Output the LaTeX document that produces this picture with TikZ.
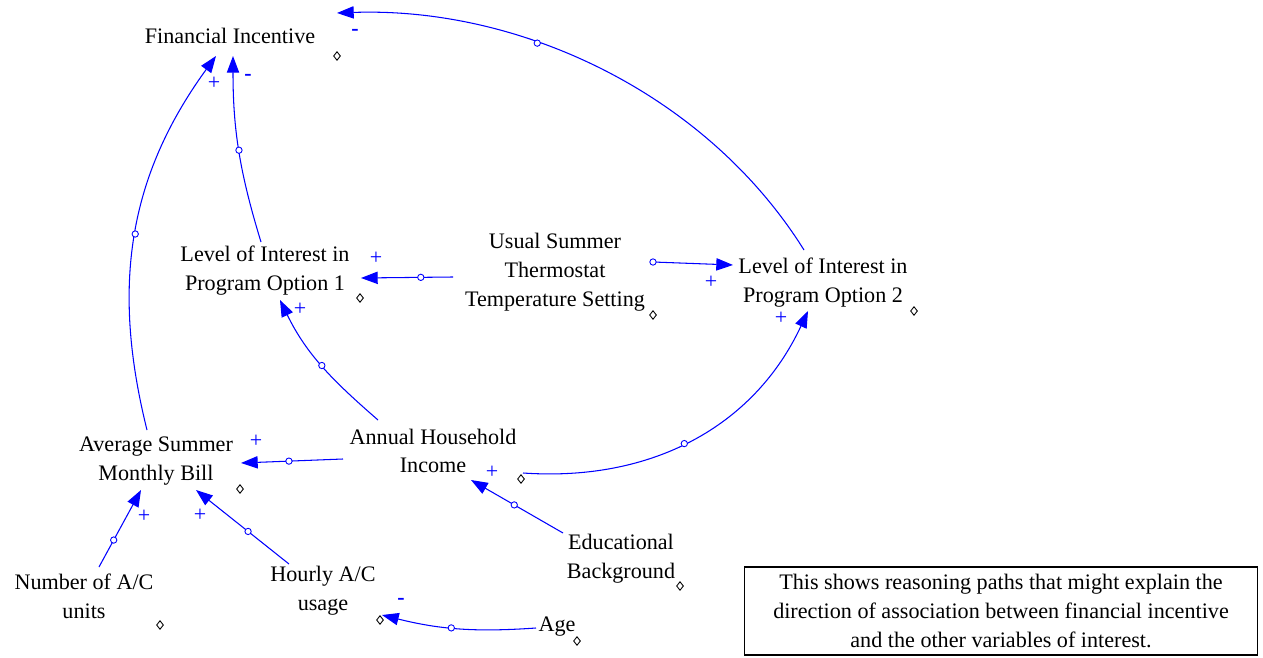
\documentclass[tikz,border=0pt]{standalone}
\usepackage{fontspec}
\setmainfont{Liberation Serif}
\usetikzlibrary{arrows.meta,shapes,positioning,calc}

\tikzset{
  var/.style={align=center, inner sep=0pt, font=\fontsize{12.6}{16.4}\selectfont},
  link/.style={draw=blue, line width=0.6pt, -{Triangle[length=9.5pt,width=7pt]}},
  hnd/.style={circle, draw=blue, fill=white, line width=0.5pt, inner sep=0pt, minimum size=3.6pt},
  pol/.style={text=blue, inner sep=0pt, font=\fontsize{12.5}{14}\selectfont},
  dmd/.style={diamond, draw=black, fill=white, line width=0.5pt, inner sep=0pt, minimum width=4pt, minimum height=5pt},
}

\begin{document}
\begin{tikzpicture}[x=0.02cm, y=0.02cm]
\useasboundingbox (0,0) rectangle (1263,-658);

% Variables
\node[var] (fin) at (230,-36) {Financial Incentive};
\node[var] (opt1) at (265,-271) {Level of Interest in\\Program Option 1};
\node[var] (thermo) at (555,-272) {Usual Summer\\Thermostat\\Temperature Setting};
\node[var] (opt2) at (823,-283) {Level of Interest in\\Program Option 2};
\node[var] (income) at (433,-451) {Annual Household\\Income};
\node[var] (bill) at (156,-461) {Average Summer\\Monthly Bill};
\node[var] (units) at (84,-596) {Number of A/C\\units};
\node[var] (hourly) at (323,-591) {Hourly A/C\\usage};
\node[var] (edu) at (621,-559) {Educational\\Background};
\node[var] (age) at (557,-627) {Age};

% Variable handles
\node[dmd] (d1) at (337,-56) {};
\node[dmd] (d2) at (360,-298) {};
\node[dmd] (d3) at (653,-315) {};
\node[dmd] (d4) at (914,-311) {};
\node[dmd] (d5) at (521,-479) {};
\node[dmd] (d6) at (240,-489) {};
\node[dmd] (d7) at (160,-625) {};
\node[dmd] (d8) at (380,-620) {};
\node[dmd] (d9) at (680,-586) {};
\node[dmd] (d10) at (577,-641) {};

% Causal links
\draw[link] ($(opt2)+(-19,33)$) to[out=122,in=2,looseness=0.9] node[hnd,pos=0.63] (h1) {} ($(fin)+(107,23)$);
\draw[link] ($(bill)+(-9,31)$) to[out=104,in=234] node[hnd,pos=0.5] (h2) {} ($(fin)+(-14,-20)$);
\draw[link] ($(opt1)+(-4,29)$) to[out=107,in=-90] node[hnd,pos=0.5] (h3) {} ($(fin)+(3,-20)$);
\draw[link] ($(thermo)+(-102,-5)$) -- node[hnd,pos=0.35] (h4) {} ($(opt1)+(96,-7)$);
\draw[link] ($(thermo)+(98,10)$) -- node[hnd,pos=0] (h5) {} ($(opt2)+(-90,18)$);
\draw[link] ($(income)+(-55,31)$) to[out=139,in=-64] node[hnd,pos=0.5] (h6) {} ($(opt1)+(15,-29)$);
\draw[link] ($(income)+(90,-22)$) to[out=-4,in=245] node[hnd,pos=0.47] (h7) {} ($(opt2)+(-15,-28)$);
\draw[link] ($(income)+(-90,-8)$) -- node[hnd,pos=0.53] (h8) {} ($(bill)+(85,-2)$);
\draw[link] ($(units)+(15,29)$) -- node[hnd,pos=0.35] (h9) {} ($(bill)+(-15,-29)$);
\draw[link] ($(hourly)+(-34,27)$) -- node[hnd,pos=0.44] (h10) {} ($(bill)+(40,-29)$);
\draw[link] ($(edu)+(-58,26)$) -- node[hnd,pos=0.53] (h11) {} ($(income)+(38,-29)$);
\draw[link] ($(age)+(-21,-1)$) to[out=184,in=-14] node[hnd,pos=0.55] (h12) {} ($(hourly)+(59,-24)$);

% Polarities
\node[pol] (s1) at (355,-32) {\bfseries -};
\node[pol] (s2) at (214,-83) {+};
\node[pol] (s3) at (248,-77) {\bfseries -};
\node[pol] (s4) at (376,-258) {+};
\node[pol] (s5) at (711,-282) {+};
\node[pol] (s6) at (300,-309) {+};
\node[pol] (s7) at (781,-318) {+};
\node[pol] (s8) at (256,-441) {+};
\node[pol] (s9) at (144,-516) {+};
\node[pol] (s10) at (200,-515) {+};
\node[pol] (s11) at (492,-472) {+};
\node[pol] (s12) at (401,-601) {\bfseries -};

% Note
\node[var, draw, line width=0.6pt, minimum width=10.28cm, minimum height=1.76cm] (note) at (1001,-611)
  {This shows reasoning paths that might explain the\\direction of association between financial incentive\\and the other variables of interest.};
\end{tikzpicture}
\end{document}
